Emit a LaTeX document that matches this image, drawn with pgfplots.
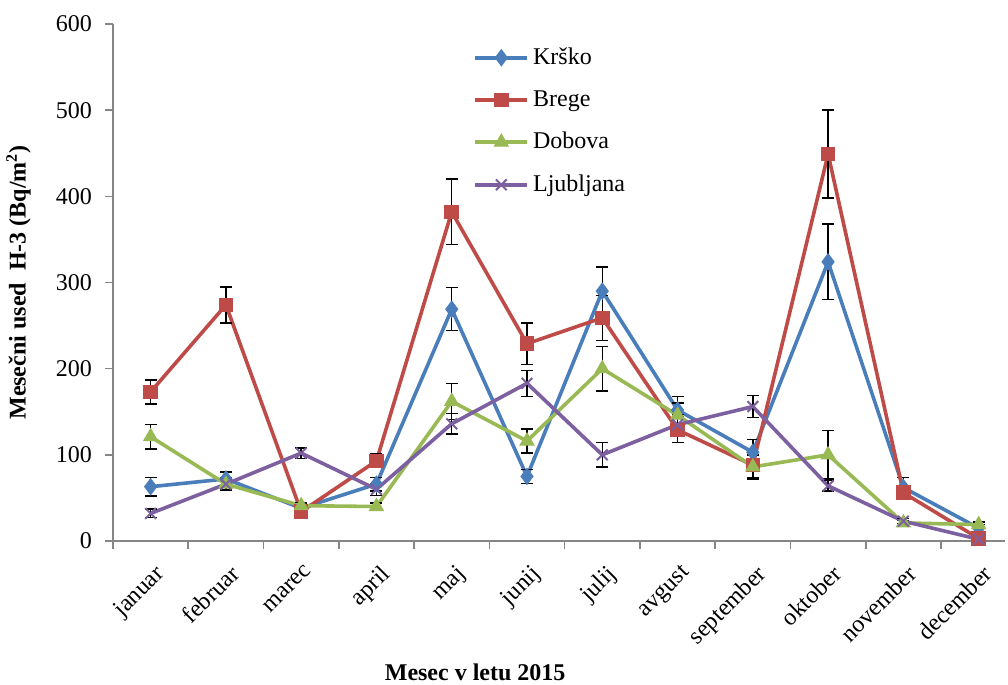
\documentclass[border=0pt]{standalone}
\usepackage{fontspec}
\setmainfont{Liberation Serif}
\usepackage{pgfplots}
\pgfplotsset{compat=1.18}

\definecolor{krsko}{HTML}{4A7EBB}
\definecolor{brege}{HTML}{BE4B48}
\definecolor{dobova}{HTML}{98B954}
\definecolor{ljub}{HTML}{7D60A0}
\definecolor{axgray}{HTML}{868686}

\begin{document}
\begin{tikzpicture}
\begin{axis}[
    scale only axis,
    width=446pt, height=258.5pt,
    xmin=-0.5, xmax=11.35,
    ymin=0, ymax=600,
    ytick={0,100,...,600},
    xtick={0,...,11},
    xticklabels={januar,februar,marec,april,maj,junij,julij,avgust,september,oktober,november,december},
    minor xtick={-0.5,0.5,...,11.5},
    major x tick style={draw=none},
    axis x line*=bottom, axis y line*=left,
    axis line style={axgray, line width=0.8pt, -},
    tick style={axgray, line width=0.8pt},
    tick align=outside,
    major tick length=4pt, minor tick length=4pt,
    xticklabel style={rotate=45, anchor=north east, inner sep=1pt, yshift=-5pt, xshift=-3pt},
    yticklabel style={xshift=-3pt},
    ticklabel style={font=\fontsize{12}{14}\selectfont},
    /pgf/number format/assume math mode=true,
    xlabel={\textbf{Mesec v letu 2015}},
    ylabel={\textbf{Mesečni used\ \ H-3 (Bq/m\textsuperscript{2})}},
    label style={font=\fontsize{12}{14}\selectfont},
    xlabel style={at={(axis description cs:0.406,-0.254)}, anchor=center},
    ylabel style={at={(axis description cs:-0.106,0.5)}, anchor=center},
    clip=false,
    legend style={at={(0.397,0.97)}, anchor=north west, draw=none, fill=none,
        font=\fontsize{12}{14}\selectfont, row sep=7.5pt},
    legend cell align=left,
    legend image code/.code={\draw[mark repeat=2,mark phase=2] plot coordinates {(0pt,0pt) (13pt,0pt) (26pt,0pt)};},
    every axis plot/.append style={line width=1.8pt},
    error bars/y dir=both, error bars/y explicit,
    error bars/error bar style={black, line width=0.7pt},
    error bars/error mark options={black, rotate=90, mark size=3pt, line width=0.7pt},
]
% Krško
\addplot[krsko, mark=diamond*, mark size=4pt, mark options={solid, line width=0.5pt}] coordinates {
    (0,63) +- (0,11)
    (1,72) +- (0,8)
    (2,38) +- (0,5)
    (3,66) +- (0,8)
    (4,269) +- (0,25)
    (5,75) +- (0,8)
    (6,290) +- (0,28)
    (7,152) +- (0,16)
    (8,103) +- (0,15)
    (9,324) +- (0,44)
    (10,62) +- (0,12)
    (11,15) +- (0,4)
};
\addlegendentry{Krško}
% Brege
\addplot[brege, mark=square*, mark size=3.4pt, mark options={solid, line width=0.5pt}] coordinates {
    (0,173) +- (0,14)
    (1,274) +- (0,21)
    (2,34) +- (0,5)
    (3,93) +- (0,8)
    (4,382) +- (0,38)
    (5,229) +- (0,24)
    (6,259) +- (0,26)
    (7,129) +- (0,15)
    (8,88) +- (0,15)
    (9,449) +- (0,51)
    (10,56) +- (0,6)
    (11,3) +- (0,2)
};
\addlegendentry{Brege}
% Dobova
\addplot[dobova, mark=triangle*, mark size=4pt, mark options={solid, line width=0.5pt}] coordinates {
    (0,121) +- (0,14)
    (1,66) +- (0,7)
    (2,41) +- (0,4)
    (3,40) +- (0,4)
    (4,162) +- (0,21)
    (5,116) +- (0,14)
    (6,200) +- (0,26)
    (7,146) +- (0,14)
    (8,86) +- (0,14)
    (9,100) +- (0,28)
    (10,21) +- (0,3)
    (11,19) +- (0,3)
};
\addlegendentry{Dobova}
% Ljubljana
\addplot[ljub, mark=x, mark size=3.8pt, mark options={solid, line width=1pt}] coordinates {
    (0,32) +- (0,5)
    (1,66) +- (0,7)
    (2,102) +- (0,6)
    (3,60) +- (0,7)
    (4,136) +- (0,12)
    (5,183) +- (0,15)
    (6,100) +- (0,14)
    (7,135) +- (0,12)
    (8,156) +- (0,13)
    (9,64) +- (0,6)
    (10,23) +- (0,3)
    (11,2) +- (0,2)
};
\addlegendentry{Ljubljana}
\end{axis}
\pgfresetboundingbox
\path[use as bounding box] (-56.5pt,-72pt) rectangle (447.5pt,270.5pt);
\end{tikzpicture}
\end{document}
